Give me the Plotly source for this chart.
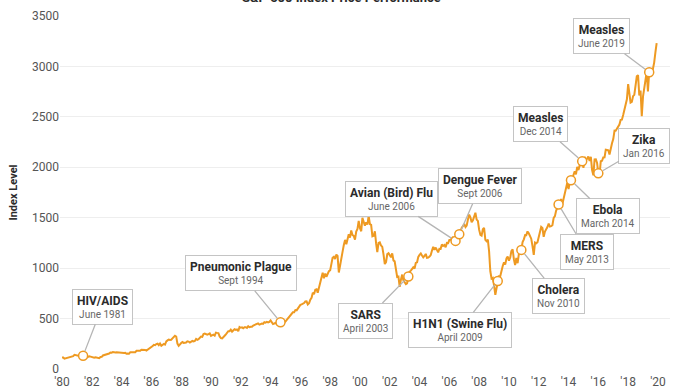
import pandas as pd
import plotly.graph_objects as go

# Monthly S&P 500 index levels (month-end)
sp_1980s = [
    114, 114, 102, 106, 111, 114, 122, 122, 125, 127, 140, 136,   # 1980
    130, 131, 136, 133, 133, 131, 131, 123, 116, 122, 126, 123,   # 1981
    120, 113, 112, 116, 112, 110, 107, 119, 120, 134, 138, 141,   # 1982
    145, 148, 153, 164, 162, 168, 163, 164, 166, 164, 166, 165,   # 1983
    163, 157, 159, 160, 151, 153, 151, 167, 166, 166, 164, 167,   # 1984
    180, 181, 181, 180, 190, 192, 191, 189, 182, 190, 202, 211,   # 1985
    212, 227, 239, 236, 247, 251, 236, 253, 231, 244, 249, 242,   # 1986
    274, 284, 292, 288, 290, 304, 319, 330, 322, 252, 230, 247,   # 1987
    257, 268, 259, 261, 262, 274, 272, 262, 272, 279, 274, 278,   # 1988
    298, 289, 295, 310, 321, 318, 346, 352, 349, 340, 346, 353,   # 1989
]
sp_1990s = [
    329, 332, 340, 331, 361, 358, 356, 323, 306, 304, 322, 330,   # 1990
    344, 367, 375, 375, 390, 371, 388, 395, 388, 393, 375, 417,   # 1991
    409, 413, 404, 415, 415, 408, 424, 414, 418, 419, 431, 436,   # 1992
    439, 443, 452, 440, 450, 451, 448, 464, 459, 468, 462, 467,   # 1993
    482, 467, 446, 451, 457, 444, 458, 476, 463, 472, 454, 459,   # 1994
    470, 487, 501, 515, 533, 545, 562, 562, 584, 582, 605, 616,   # 1995
    636, 640, 646, 654, 669, 671, 640, 652, 687, 705, 757, 741,   # 1996
    786, 791, 757, 801, 848, 885, 954, 900, 947, 915, 955, 970,   # 1997
    980, 1049, 1102, 1112, 1091, 1134, 1121, 957, 1017, 1099, 1164, 1229,  # 1998
    1280, 1238, 1286, 1335, 1302, 1373, 1329, 1320, 1283, 1363, 1389, 1469,  # 1999
]
sp_2000s = [
    1395, 1366, 1499, 1452, 1421, 1455, 1431, 1518, 1437, 1429, 1315, 1320,  # 2000
    1366, 1240, 1160, 1250, 1256, 1224, 1211, 1134, 1041, 1060, 1140, 1148,  # 2001
    1130, 1107, 1147, 1077, 1067, 990, 912, 916, 815, 886, 936, 880,        # 2002
    856, 841, 848, 917, 964, 975, 990, 1008, 996, 1051, 1058, 1112,         # 2003
    1131, 1145, 1126, 1107, 1121, 1141, 1102, 1104, 1115, 1130, 1174, 1212,  # 2004
    1181, 1204, 1181, 1157, 1192, 1191, 1234, 1220, 1229, 1207, 1250, 1248,  # 2005
    1280, 1281, 1295, 1311, 1270, 1270, 1277, 1304, 1336, 1378, 1401, 1418,  # 2006
    1438, 1407, 1421, 1482, 1531, 1503, 1455, 1474, 1527, 1549, 1481, 1468,  # 2007
    1379, 1331, 1323, 1386, 1400, 1280, 1267, 1283, 1166, 969, 896, 903,    # 2008
    826, 735, 798, 873, 919, 919, 988, 1021, 1057, 1036, 1096, 1115,        # 2009
]
sp_2010s = [
    1074, 1105, 1169, 1187, 1089, 1031, 1102, 1049, 1141, 1183, 1181, 1258,  # 2010
    1286, 1327, 1326, 1364, 1345, 1321, 1292, 1219, 1131, 1253, 1247, 1258,  # 2011
    1312, 1366, 1409, 1398, 1310, 1362, 1379, 1407, 1441, 1412, 1416, 1426,  # 2012
    1498, 1515, 1569, 1598, 1631, 1606, 1686, 1633, 1682, 1757, 1806, 1848,  # 2013
    1783, 1860, 1872, 1884, 1924, 1960, 1931, 2003, 1972, 2018, 2068, 2059,  # 2014
    1995, 2105, 2068, 2086, 2107, 2063, 2104, 1972, 1920, 2079, 2080, 2044,  # 2015
    1940, 1932, 2060, 2065, 2097, 2099, 2174, 2171, 2168, 2126, 2199, 2239,  # 2016
    2279, 2364, 2363, 2384, 2412, 2423, 2470, 2472, 2519, 2575, 2648, 2674,  # 2017
    2824, 2714, 2641, 2648, 2705, 2718, 2816, 2902, 2914, 2712, 2760, 2507,  # 2018
    2704, 2785, 2834, 2946, 2752, 2942, 2980, 2927, 2977, 3038, 3141, 3231,  # 2019
]
levels = sp_1980s + sp_1990s + sp_2000s + sp_2010s
dates = pd.date_range("1980-01-01", periods=len(levels), freq="MS")
series = pd.Series(levels, index=dates)

# Outbreak events: name, date label, month of marker
event_names = ["HIV/AIDS", "Pneumonic Plague", "SARS", "Avian (Bird) Flu", "Dengue Fever",
               "H1N1 (Swine Flu)", "Cholera", "MERS", "Ebola", "Measles", "Zika", "Measles"]
event_labels = ["June 1981", "Sept 1994", "April 2003", "June 2006", "Sept 2006",
                "April 2009", "Nov 2010", "May 2013", "March 2014", "Dec 2014", "Jan 2016", "June 2019"]
event_months = ["1981-06-01", "1994-09-01", "2003-04-01", "2006-06-01", "2006-09-01",
                "2009-04-01", "2010-11-01", "2013-05-01", "2014-03-01", "2014-12-01", "2016-01-01", "2019-06-01"]
# callout box offsets (pixels) from marker
event_ax = [19, -40, -43, -64, 21, -38, 37, 28, 37, -42, 46, -48]
event_ay = [-49, -49, 44, -42, -48, 49, 46, 47, 36, -37, -27, -36]

ev_x = pd.to_datetime(event_months)
ev_y = [series[d] for d in ev_x]

ORANGE = "#EE9A22"
FONT = "Roboto, Liberation Sans, sans-serif"

fig = go.Figure()
fig.add_trace(go.Scatter(x=dates, y=levels, mode="lines",
                         line=dict(color=ORANGE, width=2), hoverinfo="skip"))
fig.add_trace(go.Scatter(x=ev_x, y=ev_y, mode="markers",
                         marker=dict(size=9, color="white", line=dict(color=ORANGE, width=1.5)),
                         hoverinfo="skip"))

for name, lab, x, y, ax, ay in zip(event_names, event_labels, ev_x, ev_y, event_ax, event_ay):
    txt = (f"<b><span style='font-size:12px;color:#2b2b2b'>{name}</span></b>"
           f"<br><span style='font-size:10px;color:#666'>{lab}</span>")
    fig.add_annotation(x=x, y=y, ax=ax, ay=ay, text=txt, showarrow=True, arrowhead=0,
                       arrowcolor="#b5b5b5", arrowwidth=1.3, standoff=5,
                       font=dict(family=FONT, size=10), bgcolor="white", bordercolor="#c4c4c4",
                       borderwidth=1, borderpad=4, align="center")

fig.add_annotation(text="<b>S&P 500 Index Price Performance</b>", xref="paper", yref="paper",
                   x=0.462, y=1.052, yanchor="middle", showarrow=False,
                   font=dict(family=FONT, size=13, color="#2b2b2b"))

tick_years = list(range(1980, 2021, 2))
fig.update_layout(
    width=675, height=388,
    margin=dict(l=60, r=5, t=16, b=19),
    paper_bgcolor="white", plot_bgcolor="white",
    showlegend=False,
    font=dict(family=FONT, size=12, color="#555"),
    xaxis=dict(type="date", range=["1979-11-13", "2020-10-23"],
               tickvals=[pd.Timestamp(f"{y}-01-01") for y in tick_years],
               ticktext=[f"'{str(y)[2:]}" for y in tick_years],
               showgrid=False, zeroline=False, showline=False, ticks="",
               ticklabelstandoff=4,
               tickfont=dict(size=12, color="#555"), automargin=False),
    yaxis=dict(range=[0, 3500], dtick=500, showgrid=True, gridcolor="#eeeeee", gridwidth=1,
               zeroline=False, showline=False, ticks="", tickfont=dict(size=12, color="#555"),
               title=dict(text="<b>Index Level</b>", font=dict(size=11, color="#2b2b2b"), standoff=12),
               automargin=False),
)

fig.write_html("out.html", config={"displayModeBar": False},
               post_script="document.body.style.margin='0';")
